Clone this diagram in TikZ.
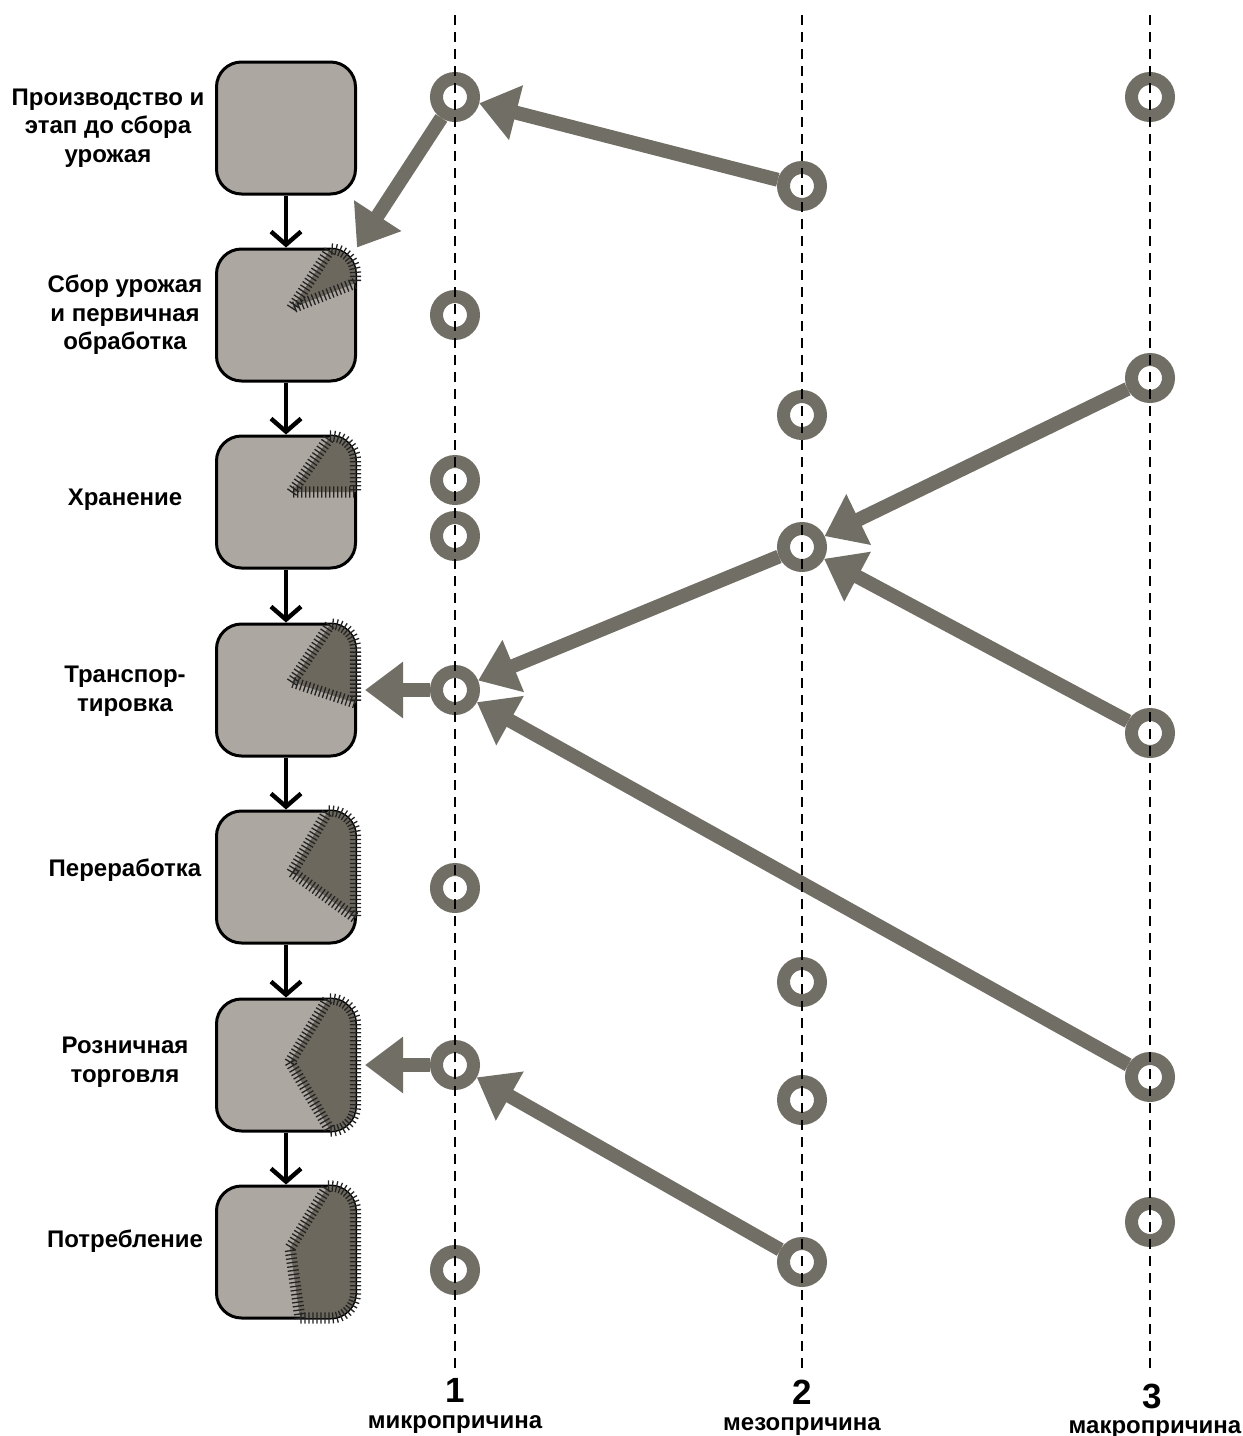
\documentclass[tikz,border=0pt]{standalone}
\usepackage{fontspec}
\setmainfont{Liberation Sans}
\usetikzlibrary{arrows.meta}
\usetikzlibrary{decorations.pathreplacing}
\definecolor{causegray}{RGB}{113,110,101}
\definecolor{boxgray}{RGB}{172,167,161}
\definecolor{lossgray}{RGB}{108,104,94}
\definecolor{tickgray}{RGB}{35,35,35}

\begin{document}
\begin{tikzpicture}[x=.5pt,y=-.5pt,
 stage/.style={draw=black,line width=1.5pt,fill=boxgray,rounded corners=12.5pt,minimum width=69.5pt,minimum height=66pt,inner sep=0},
 cut/.style={fill=lossgray,postaction={draw=tickgray,line width=.65pt,decorate,decoration={ticks,segment length=2pt,amplitude=2.8pt}}},
 ring/.style={circle,draw=causegray,line width=6.5pt,minimum size=18.5pt,inner sep=0},
 flow/.style={draw=black,line width=2.2pt,-{Straight Barb[length=6.5pt,width=15pt]}},
 cause/.style={draw=causegray,line width=7pt,-{Triangle[length=19pt,width=27pt]}},
 lbl/.style={font=\bfseries\fontsize{12}{14.25}\selectfont,align=center,inner sep=0},
 numlbl/.style={font=\bfseries\fontsize{17.5}{20}\selectfont,inner sep=0},
 caplbl/.style={font=\bfseries\fontsize{12}{14}\selectfont,inner sep=0}]
\useasboundingbox (0,0) rectangle (1243,1436);
\foreach \y [count=\i] in {128,315,502,690,877,1065,1252}
 \node[stage] (st\i) at (286,\y) {};
\path[cut,shift={(st2.center)}] (6,-7) -- (44.5,-66) arc[start angle=-90,end angle=0,radius=25] -- (69.5,-32) -- cycle;
\path[cut,shift={(st3.center)}] (6,-10) -- (44.5,-66) arc[start angle=-90,end angle=0,radius=25] -- (69.5,-10) -- cycle;
\path[cut,shift={(st4.center)}] (6,-8) -- (44.5,-66) arc[start angle=-90,end angle=0,radius=25] -- (69.5,13) -- cycle;
\path[cut,shift={(st5.center)}] (6,-5) -- (42,-66) -- (44.5,-66) arc[start angle=-90,end angle=0,radius=25] -- (69.5,41) -- cycle;
\path[cut,shift={(st6.center)}] (4,-3) -- (42,-66) -- (44.5,-66) arc[start angle=-90,end angle=0,radius=25] -- (69.5,41) arc[start angle=0,end angle=90,radius=25] -- cycle;
\path[cut,shift={(st7.center)}] (14,66) -- (4,-4) -- (42,-66) -- (44.5,-66) arc[start angle=-90,end angle=0,radius=25] -- (69.5,41) arc[start angle=0,end angle=90,radius=25] -- cycle;
\foreach \i [evaluate=\i as \j using int(\i+1)] in {1,...,6}
 \draw[flow] (st\i.south) -- (st\j.north);
\node[lbl] (lb1) at (108,128) {Производство и\\этап до сбора\\урожая};
\node[lbl] (lb2) at (125,315) {Сбор урожая\\и первичная\\обработка};
\node[lbl] (lb3) at (125,500) {Хранение};
\node[lbl] (lb4) at (125,691) {Транспор-\\тировка};
\node[lbl] (lb5) at (125,870) {Переработка};
\node[lbl] (lb6) at (125,1062) {Розничная\\торговля};
\node[lbl] (lb7) at (125,1241) {Потребление};
\foreach \y [count=\i] in {97,315,480,536,690,888,1065,1270}
 \node[ring] (mic\i) at (455,\y) {};
\foreach \y [count=\i] in {186,415,547,982,1100,1262}
 \node[ring] (mez\i) at (802,\y) {};
\foreach \y [count=\i] in {97,378,733,1077,1222}
 \node[ring] (mac\i) at (1150,\y) {};
\draw[cause] (mez1) -- (mic1);
\draw[cause] (mic1) -- (st2.north east);
\draw[cause] (mac2) -- (mez3);
\draw[cause] (mac3) -- (mez3);
\draw[cause] (mez3) -- (mic5);
\draw[cause] (mac4) -- (mic5);
\draw[cause,shorten >=4pt] (mic5) -- (st4.east);
\draw[cause,shorten >=4pt] (mic7) -- (st6.east);
\draw[cause] (mez6) -- (mic7);
\foreach \x in {455,802,1150}
 \draw[black,line width=1.3pt,dash pattern=on 5pt off 3.5pt] (\x,15) -- (\x,1368);
\node[numlbl] (n1) at (455,1390) {1};
\node[caplbl] (k1) at (455,1424) {микропричина};
\node[numlbl] (n2) at (802,1392) {2};
\node[caplbl] (k2) at (802,1426) {мезопричина};
\node[numlbl] (n3) at (1152,1396) {3};
\node[caplbl] (k3) at (1155,1429) {макропричина};
\end{tikzpicture}
\end{document}
